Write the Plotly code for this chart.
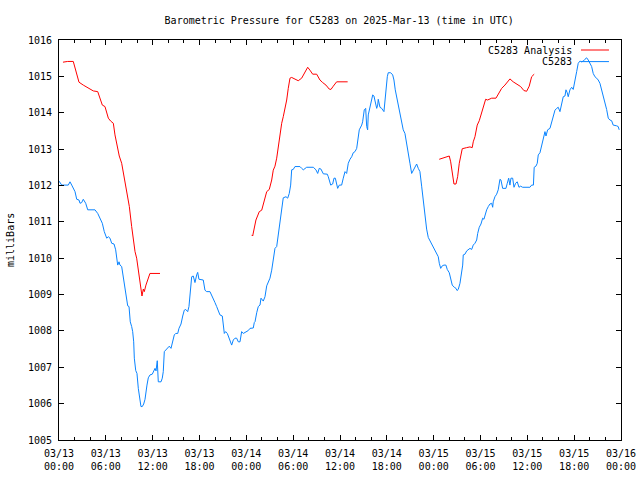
import pandas as pd
import plotly.graph_objects as go

START = pd.Timestamp("2025-03-13 00:00")

# C5283 Analysis (hours since 03/13 00:00 UTC, millibars) — three segments
analysis_hours_1 = [0.51, 1.11, 1.83, 2.05, 2.40, 2.56, 3.11, 3.75, 4.39, 4.96, 5.25, 5.55, 5.89,
                    6.32, 6.62, 6.96, 7.17, 7.52, 7.72, 8.03, 8.24, 8.54, 8.80, 9.01, 9.31, 9.52,
                    9.74, 9.95, 10.16, 10.38, 10.50, 10.63, 10.80, 10.93, 11.14, 11.44, 11.65, 12.94]
analysis_mb_1 = [1015.39, 1015.41, 1015.41, 1015.22, 1014.90, 1014.84, 1014.76, 1014.67, 1014.60,
                 1014.58, 1014.40, 1014.21, 1014.17, 1013.85, 1013.77, 1013.71, 1013.39, 1013.02,
                 1012.81, 1012.61, 1012.33, 1012.01, 1011.69, 1011.42, 1010.87, 1010.45, 1010.18,
                 1010.00, 1009.67, 1009.35, 1009.08, 1008.96, 1009.15, 1009.08, 1009.26, 1009.49,
                 1009.58, 1009.58]

analysis_hours_2 = [24.68, 24.81, 25.23, 25.66, 25.97, 26.26, 26.61, 26.94, 27.25, 27.45, 27.67,
                    27.89, 28.09, 28.31, 28.53, 28.73, 28.95, 29.17, 29.37, 29.59, 29.81, 30.23,
                    30.65, 31.09, 31.51, 31.86, 32.15, 32.50, 33.01, 33.43, 33.78, 34.20, 34.62,
                    34.84, 35.14, 35.57, 36.98]
analysis_mb_2 = [1010.64, 1010.61, 1011.05, 1011.28, 1011.32, 1011.55, 1011.83, 1011.89, 1012.15,
                 1012.42, 1012.53, 1012.75, 1013.07, 1013.43, 1013.71, 1013.89, 1014.12, 1014.35,
                 1014.67, 1014.95, 1014.97, 1014.93, 1014.88, 1014.95, 1015.13, 1015.25, 1015.17,
                 1015.06, 1015.06, 1014.90, 1014.83, 1014.76, 1014.65, 1014.64, 1014.73, 1014.85,
                 1014.85]

analysis_hours_3 = [48.71, 49.23, 49.57, 50.00, 50.18, 50.38, 50.60, 50.86, 51.07, 51.28, 51.49,
                    51.66, 52.22, 52.65, 52.94, 53.07, 53.29, 53.58, 53.84, 54.15, 54.35, 54.66,
                    54.91, 55.43, 55.98, 56.27, 56.71, 57.13, 57.48, 57.77, 58.19, 58.71, 59.14,
                    59.56, 59.91, 60.24, 60.55, 60.88]
analysis_mb_3 = [1012.72, 1012.75, 1012.79, 1012.81, 1012.65, 1012.33, 1012.04, 1012.04, 1012.24,
                 1012.61, 1012.88, 1013.01, 1013.04, 1013.06, 1013.04, 1013.20, 1013.34, 1013.66,
                 1013.78, 1013.98, 1014.17, 1014.37, 1014.35, 1014.40, 1014.40, 1014.51, 1014.67,
                 1014.76, 1014.85, 1014.93, 1014.85, 1014.79, 1014.72, 1014.61, 1014.59, 1014.73,
                 1014.99, 1015.06]

# C5283 observations
obs_hours = [0.00, 0.35, 1.19, 1.41, 1.63, 1.83, 2.05, 2.27, 2.56, 2.69, 2.91, 3.11, 3.42, 3.68,
             4.61, 4.96, 5.25, 5.55, 5.80, 6.11, 6.32, 6.53, 6.75, 7.05, 7.26, 7.39, 7.52, 7.69,
             7.81, 8.03, 8.24, 8.36, 8.54, 8.67, 8.80, 8.97, 9.13, 9.31, 9.44, 9.57, 9.65, 9.83,
             9.99, 10.16, 10.38, 10.50, 10.67, 10.85, 11.02, 11.14, 11.27, 11.44, 11.66, 11.95,
             12.13, 12.30, 12.43, 12.59, 12.72, 13.07, 13.23, 13.36, 13.49, 13.71, 13.92, 14.13,
             14.35, 14.51, 14.77, 14.95, 15.21, 15.37, 15.63, 15.85, 16.05, 16.23, 16.49, 16.65,
             16.78, 16.91, 17.00, 17.20, 17.42, 17.64, 17.77, 17.93, 18.48, 18.70, 18.92, 19.34,
             19.56, 19.77, 19.98, 20.20, 20.41, 20.62, 20.92, 21.05, 21.18, 21.35, 21.56, 21.69,
             21.91, 22.12, 22.33, 22.55, 22.76, 22.97, 23.19, 23.40, 23.61, 23.83, 24.05, 24.25,
             24.47, 24.89, 25.02, 25.11, 25.33, 25.53, 25.75, 25.88, 26.17, 26.39, 26.61, 26.81,
             27.03, 27.25, 27.45, 27.67, 27.89, 28.09, 28.31, 28.53, 28.73, 29.08, 29.30, 29.50,
             29.68, 29.81, 30.01, 30.23, 30.87, 31.09, 31.30, 31.73, 32.58, 32.92, 33.14, 33.34,
             33.56, 33.86, 34.37, 34.50, 34.81, 35.06, 35.23, 35.40, 35.57, 35.70, 35.91, 36.21,
             36.42, 36.64, 36.85, 37.06, 37.28, 37.50, 37.70, 37.92, 38.14, 38.34, 38.47, 38.78,
             38.90, 39.11, 39.29, 39.42, 39.54, 39.62, 39.84, 39.97, 40.19, 40.35, 40.48, 40.70,
             40.83, 40.90, 41.12, 41.34, 41.63, 41.76, 41.89, 42.06, 42.18, 42.49, 42.75, 42.91,
             43.08, 43.26, 43.46, 43.68, 43.90, 44.10, 44.32, 44.54, 44.74, 44.96, 45.18, 45.39,
             45.60, 45.82, 46.03, 46.24, 46.46, 46.67, 46.89, 47.10, 47.31, 47.52, 47.74, 47.95,
             48.17, 48.38, 48.59, 48.72, 48.90, 49.10, 49.32, 49.57, 49.74, 50.00, 50.18, 50.38,
             50.64, 50.86, 50.99, 51.15, 51.37, 51.59, 51.72, 51.79, 52.01, 52.23, 52.43, 52.65,
             52.87, 53.07, 53.29, 53.51, 53.64, 53.84, 54.06, 54.28, 54.44, 54.66, 54.79, 55.00,
             55.21, 55.43, 55.56, 55.63, 55.85, 56.07, 56.27, 56.49, 56.62, 56.84, 57.26, 57.43,
             57.61, 57.77, 57.90, 58.12, 58.29, 58.50, 58.71, 58.93, 59.14, 59.40, 60.33, 60.55,
             60.78, 60.88, 61.10, 61.27, 61.40, 61.62, 61.83, 62.04, 62.26, 62.39, 62.60, 62.90,
             63.12, 63.32, 63.54, 63.76, 63.96, 64.18, 64.40, 64.60, 64.82, 64.95, 65.11, 65.24,
             65.46, 65.68, 65.88, 66.10, 66.32, 66.52, 66.74, 66.96, 67.16, 67.38, 67.60, 67.80,
             68.02, 68.24, 68.44, 68.66, 68.88, 69.08, 69.30, 69.52, 69.73, 69.95, 70.16, 70.37,
             70.58, 70.80, 71.00, 71.44, 71.64, 71.77]
obs_mb = [1012.12, 1012.01, 1012.01, 1012.10, 1012.01, 1011.92, 1011.83, 1011.62, 1011.60, 1011.51,
          1011.53, 1011.62, 1011.51, 1011.33, 1011.33, 1011.23, 1011.10, 1010.96, 1010.73, 1010.55,
          1010.59, 1010.55, 1010.41, 1010.39, 1010.23, 1009.95, 1009.81, 1009.90, 1009.81, 1009.77,
          1009.45, 1009.22, 1008.94, 1008.76, 1008.69, 1008.67, 1008.25, 1008.12, 1007.98, 1007.70,
          1007.25, 1006.91, 1006.83, 1006.42, 1006.12, 1005.92, 1005.92, 1005.99, 1006.12, 1006.38,
          1006.51, 1006.71, 1006.79, 1006.81, 1006.92, 1006.97, 1006.90, 1007.18, 1006.60, 1006.60,
          1006.70, 1006.88, 1007.43, 1007.49, 1007.52, 1007.58, 1007.52, 1007.66, 1007.89, 1007.93,
          1007.93, 1008.07, 1008.19, 1008.41, 1008.57, 1008.59, 1008.53, 1008.67, 1008.94, 1009.26,
          1009.49, 1009.51, 1009.33, 1009.54, 1009.61, 1009.42, 1009.40, 1009.12, 1009.08, 1009.08,
          1008.99, 1008.90, 1008.78, 1008.67, 1008.56, 1008.44, 1008.41, 1008.07, 1007.93, 1007.98,
          1007.93, 1007.86, 1007.70, 1007.61, 1007.75, 1007.80, 1007.80, 1007.70, 1007.70, 1007.98,
          1007.93, 1007.96, 1007.97, 1008.01, 1008.07, 1008.08, 1008.23, 1008.25, 1008.50, 1008.67,
          1008.71, 1008.90, 1008.82, 1008.94, 1009.24, 1009.35, 1009.45, 1009.67, 1010.04, 1010.27,
          1010.32, 1010.64, 1011.00, 1011.28, 1011.66, 1011.69, 1011.65, 1011.78, 1012.01, 1012.43,
          1012.44, 1012.52, 1012.52, 1012.47, 1012.43, 1012.50, 1012.50, 1012.43, 1012.33, 1012.47,
          1012.45, 1012.32, 1012.31, 1012.24, 1012.01, 1012.04, 1012.20, 1012.20, 1012.01, 1011.92,
          1012.01, 1012.01, 1012.20, 1012.38, 1012.33, 1012.61, 1012.72, 1012.79, 1012.90, 1012.93,
          1013.02, 1013.30, 1013.53, 1013.66, 1013.75, 1014.08, 1014.12, 1013.62, 1013.53, 1013.94,
          1014.12, 1014.30, 1014.49, 1014.46, 1014.30, 1014.12, 1014.21, 1014.37, 1014.15, 1014.12,
          1014.03, 1014.35, 1014.58, 1014.99, 1015.10, 1015.10, 1015.04, 1014.90, 1014.63, 1014.44,
          1014.21, 1013.98, 1013.75, 1013.53, 1013.43, 1013.11, 1012.88, 1012.61, 1012.33, 1012.43,
          1012.52, 1012.59, 1012.47, 1012.38, 1011.98, 1011.54, 1011.10, 1010.80, 1010.57, 1010.48,
          1010.39, 1010.30, 1010.23, 1010.15, 1010.04, 1009.86, 1009.72, 1009.79, 1009.81, 1009.81,
          1009.69, 1009.60, 1009.40, 1009.26, 1009.20, 1009.17, 1009.11, 1009.14, 1009.31, 1009.60,
          1009.81, 1010.09, 1010.11, 1010.20, 1010.24, 1010.27, 1010.24, 1010.36, 1010.41, 1010.50,
          1010.68, 1010.85, 1010.94, 1011.10, 1011.07, 1011.28, 1011.33, 1011.42, 1011.49, 1011.51,
          1011.40, 1011.55, 1011.69, 1011.76, 1011.88, 1012.17, 1012.15, 1011.92, 1011.92, 1012.06,
          1012.20, 1012.01, 1012.20, 1012.20, 1011.95, 1012.06, 1012.10, 1011.95, 1011.98, 1011.95,
          1011.95, 1012.01, 1012.01, 1012.50, 1012.53, 1012.61, 1012.84, 1012.90, 1013.11, 1013.30,
          1013.48, 1013.36, 1013.53, 1013.57, 1013.75, 1013.91, 1014.07, 1014.12, 1014.15, 1014.03,
          1014.30, 1014.44, 1014.46, 1014.63, 1014.55, 1014.44, 1014.63, 1014.70, 1014.64, 1014.85,
          1015.13, 1015.36, 1015.42, 1015.40, 1015.42, 1015.47, 1015.51, 1015.45, 1015.36, 1015.27,
          1015.08, 1014.99, 1014.95, 1014.90, 1014.81, 1014.64, 1014.44, 1014.26, 1014.09, 1013.85,
          1013.80, 1013.78, 1013.66, 1013.64, 1013.62, 1013.53]

tick_hours = [0, 6, 12, 18, 24, 30, 36, 42, 48, 54, 60, 66, 72]
tick_labels = ["03/13<br>00:00", "03/13<br>06:00", "03/13<br>12:00", "03/13<br>18:00",
               "03/14<br>00:00", "03/14<br>06:00", "03/14<br>12:00", "03/14<br>18:00",
               "03/15<br>00:00", "03/15<br>06:00", "03/15<br>12:00", "03/15<br>18:00",
               "03/16<br>00:00"]
y_ticks = list(range(1005, 1017))

RED = "#ff0000"
BLUE = "#0a84ff"
FONT = "DejaVu Sans Mono"


def to_time(hours):
    return [START + pd.Timedelta(hours=h) for h in hours]


fig = go.Figure()
for hrs, mb in [(analysis_hours_1, analysis_mb_1), (analysis_hours_2, analysis_mb_2),
                (analysis_hours_3, analysis_mb_3)]:
    fig.add_trace(go.Scatter(x=to_time(hrs), y=mb, mode="lines", name="C5283 Analysis",
                             line=dict(color=RED, width=1), showlegend=False))
fig.add_trace(go.Scatter(x=to_time(obs_hours), y=obs_mb, mode="lines", name="C5283",
                         line=dict(color=BLUE, width=1), showlegend=False))

axis_common = dict(showline=True, linecolor="black", linewidth=1, mirror="ticks",
                   ticks="inside", tickcolor="black", tickwidth=1, showgrid=False,
                   zeroline=False, automargin=False, ticklabelstandoff=4,
                   tickfont=dict(family=FONT, size=10, color="black"))

fig.update_xaxes(range=[START, START + pd.Timedelta(hours=72)],
                 tickvals=to_time(tick_hours), ticktext=tick_labels, ticklen=5,
                 minor=dict(ticks="inside", ticklen=3, tickcolor="black",
                            dtick=2 * 3600 * 1000, tick0=START, showgrid=False),
                 **axis_common)
fig.update_yaxes(range=[1005, 1016], tickvals=y_ticks, ticktext=[str(v) for v in y_ticks],
                 ticklen=5, **axis_common)

# gnuplot-style legend: right-aligned text with line sample on the right
legend_rows = [("C5283 Analysis", RED, 0.975), ("C5283", BLUE, 0.946)]
for label, color, yp in legend_rows:
    fig.add_annotation(x=0.9164, y=yp, xref="paper", yref="paper", text=label, showarrow=False,
                       xanchor="right", yanchor="middle",
                       font=dict(family=FONT, size=10, color="black"))
    fig.add_shape(type="line", xref="paper", yref="paper", x0=0.9288, x1=0.9786, y0=yp, y1=yp,
                  line=dict(color=color, width=1))

fig.add_annotation(x=-0.0872, y=0.5, xref="paper", yref="paper", text="milliBars",
                   textangle=-90, showarrow=False, xanchor="center", yanchor="middle",
                   font=dict(family=FONT, size=10, color="black"))

fig.update_layout(
    width=640, height=480,
    margin=dict(l=59, r=19, t=40, b=40, pad=0),
    paper_bgcolor="white", plot_bgcolor="white",
    title=dict(text="Barometric Pressure for C5283 on 2025-Mar-13 (time in UTC)",
               x=0.53, xanchor="center", y=0.957, yanchor="middle",
               font=dict(family=FONT, size=10, color="black")),
    showlegend=False,
)

# remove the default page margin so the 640x480 figure fills the window exactly
fig.write_html("out.html",
               config={"displayModeBar": False},
               post_script="document.body.style.margin='0';"
                           "document.body.style.overflow='hidden';")
